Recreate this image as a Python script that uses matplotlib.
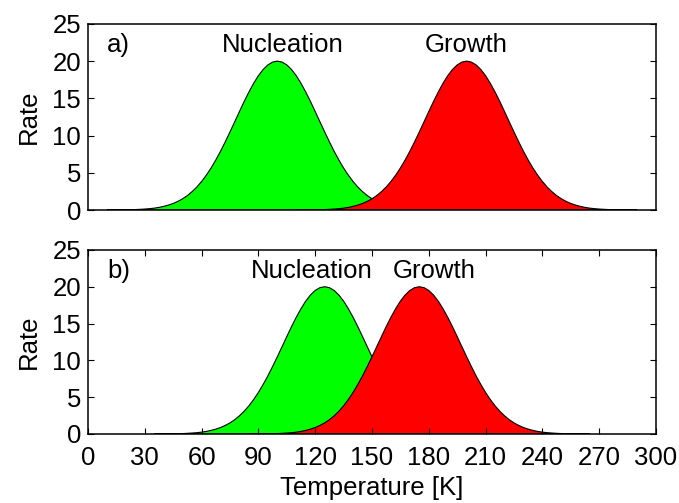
import numpy as np
import matplotlib.pyplot as plt

plt.rcParams['font.family'] = ['Liberation Sans', 'DejaVu Sans']

# peak shape: height at offsets (K) from the peak centre
offsets = [0, 2.5, 5, 7.5, 10, 12.5, 15, 17.5, 20, 22.5, 25, 27.5, 30, 32.5, 35,
           37.5, 40, 42.5, 45, 47.5, 50, 52.5, 55, 57.5, 60, 62.5, 65, 67.5, 70,
           72.5, 75, 77.5, 80, 85, 90]
heights = [20.00, 19.87, 19.49, 18.87, 18.04, 17.02, 15.85, 14.58, 13.23, 11.85,
           10.49, 9.16, 7.89, 6.72, 5.64, 4.68, 3.83, 3.09, 2.47, 1.94, 1.51, 1.16,
           0.88, 0.66, 0.49, 0.35, 0.25, 0.18, 0.13, 0.09, 0.06, 0.04, 0.03, 0.01, 0.0]

# peak centres (K) for each panel
nucl_centre = [100, 125]
growth_centre = [200, 175]
panel_tags = ['a)', 'b)']
nucl_label_x = [103, 118]
growth_label_x = [200, 183]

xticks = [0, 30, 60, 90, 120, 150, 180, 210, 240, 270, 300]
yticks = [0, 5, 10, 15, 20, 25]

FS = 18.5

off = np.array(offsets)
h = np.array(heights)
dx = np.concatenate([-off[::-1], off[1:]])
dy = np.concatenate([h[::-1], h[1:]])

fig = plt.figure(figsize=(6.79, 5.03), dpi=100)
ax1 = fig.add_axes([0.1296, 0.5825, 0.8365, 0.370])
ax2 = fig.add_axes([0.1296, 0.1372, 0.8365, 0.366])

for i, ax in enumerate([ax1, ax2]):
    ax.fill(nucl_centre[i] + dx, dy, facecolor='#00ff00', edgecolor='k', lw=0.8)
    ax.fill(growth_centre[i] + dx, dy, facecolor='#ff0000', edgecolor='k', lw=0.8)
    ax.set_xlim(0, 300)
    ax.set_ylim(0, 25)
    ax.set_yticks(yticks)
    ax.set_ylabel('Rate', fontsize=FS, labelpad=8)
    ax.text(10, 22.2, panel_tags[i], fontsize=FS, va='center', ha='left')
    ax.text(nucl_label_x[i], 22.2, 'Nucleation', fontsize=FS, va='center', ha='center')
    ax.text(growth_label_x[i], 22.2, 'Growth', fontsize=FS, va='center', ha='center')
    ax.tick_params(direction='in', length=4, width=0.8, labelsize=FS,
                   top=True, right=True)
    ax.tick_params(axis='y', pad=5)
    ax.tick_params(axis='x', pad=9)
    for s in ax.spines.values():
        s.set_linewidth(1.1)

ax1.set_xticks([])
ax2.set_xticks(xticks)
ax2.set_xlabel('Temperature [K]', fontsize=FS, labelpad=4)

fig.savefig('out.png', dpi=100)
